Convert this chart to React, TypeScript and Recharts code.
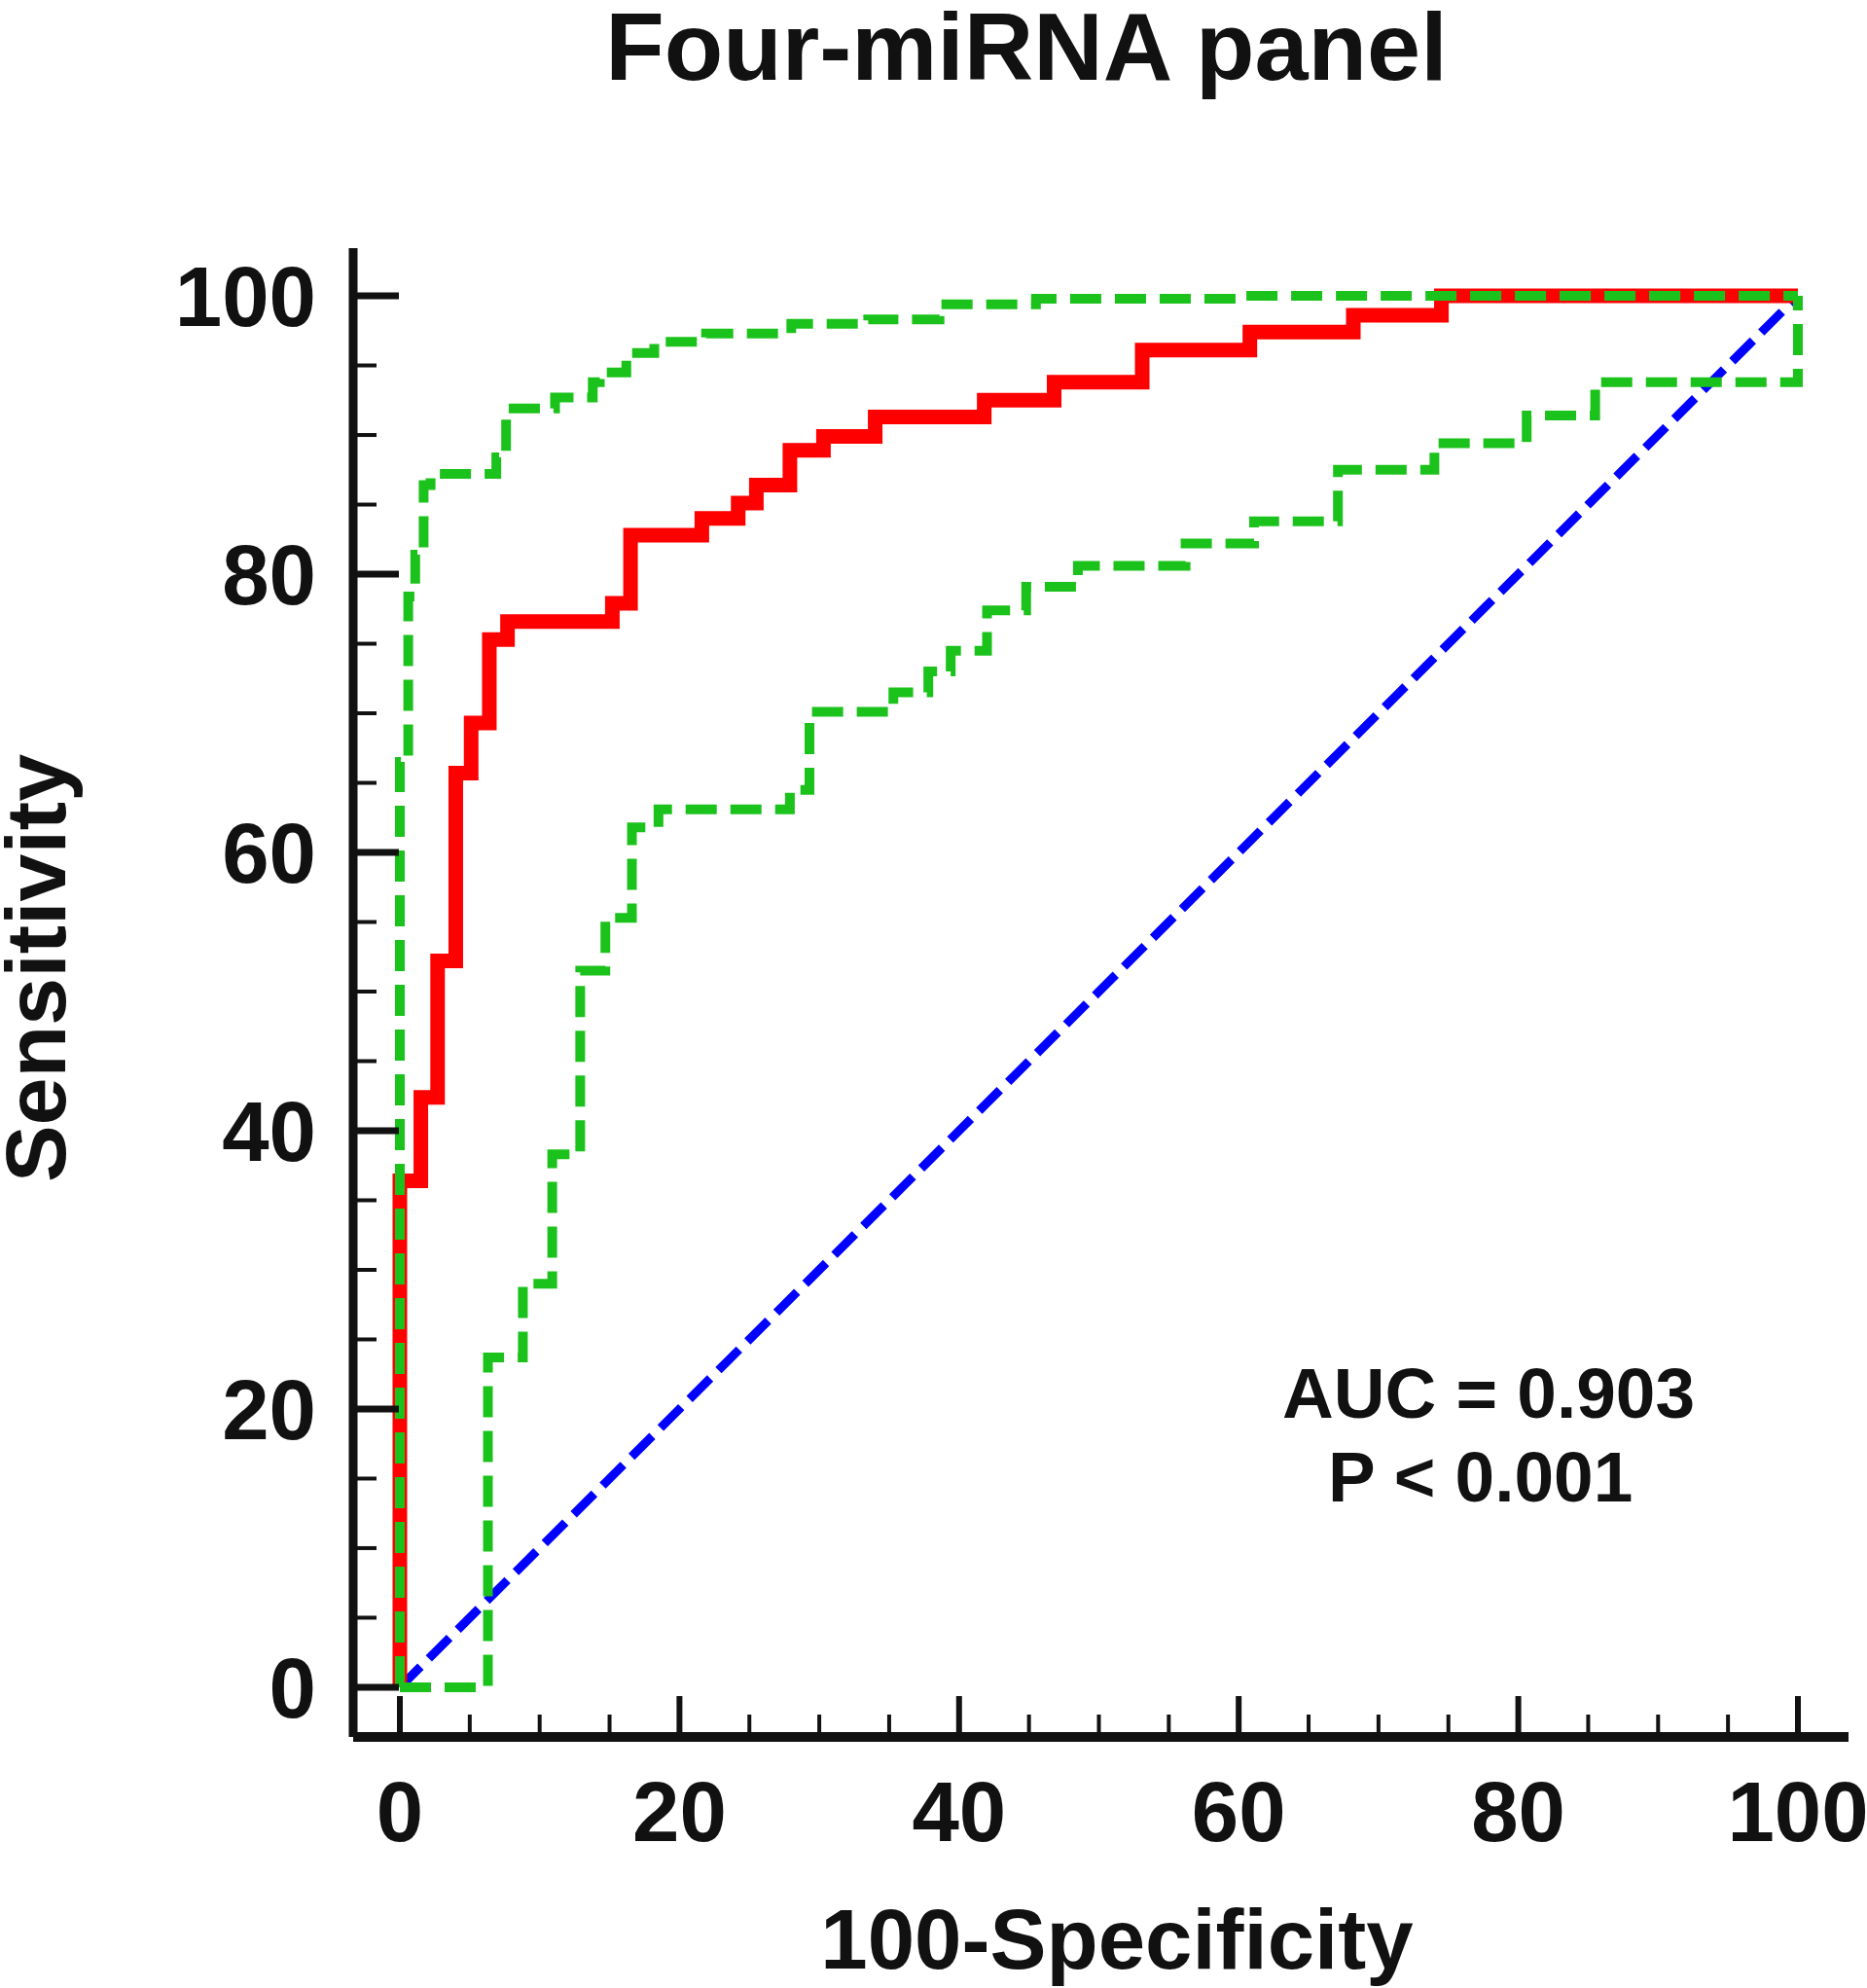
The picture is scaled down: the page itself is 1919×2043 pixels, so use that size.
import { Line, LineChart, XAxis, YAxis } from "recharts";

// ROC curve of the four-miRNA panel (100-specificity vs sensitivity)
const rocCurve = [
  { x: 0, y: 0 }, { x: 0, y: 36.4 }, { x: 1.5, y: 42.4 }, { x: 2.7, y: 52.2 },
  { x: 4.0, y: 65.7 }, { x: 5.1, y: 69.3 }, { x: 6.4, y: 75.3 }, { x: 7.7, y: 76.6 },
  { x: 15.2, y: 77.9 }, { x: 16.5, y: 82.8 }, { x: 21.6, y: 84.0 }, { x: 24.2, y: 85.1 },
  { x: 25.5, y: 86.4 }, { x: 27.9, y: 88.9 }, { x: 30.3, y: 89.9 }, { x: 34.0, y: 91.3 },
  { x: 41.8, y: 92.5 }, { x: 46.8, y: 93.8 }, { x: 53.1, y: 96.1 }, { x: 60.8, y: 97.4 },
  { x: 68.2, y: 98.6 }, { x: 74.5, y: 100 }, { x: 100, y: 100 },
];

// 95% confidence bounds
const upperBound = [
  { x: 0, y: 0 }, { x: 0, y: 66.5 }, { x: 0.6, y: 78.4 }, { x: 1.1, y: 81.4 },
  { x: 1.7, y: 86.4 }, { x: 2.2, y: 87.2 }, { x: 6.9, y: 88.4 }, { x: 7.6, y: 91.9 },
  { x: 11.1, y: 92.7 }, { x: 13.8, y: 93.8 }, { x: 14.3, y: 94.5 }, { x: 16.2, y: 95.9 },
  { x: 18.2, y: 96.7 }, { x: 21.9, y: 97.3 }, { x: 28.0, y: 98.0 }, { x: 33.5, y: 98.3 },
  { x: 38.6, y: 99.4 }, { x: 45.5, y: 99.8 }, { x: 60.4, y: 100 }, { x: 100, y: 100 },
];

const lowerBound = [
  { x: 0, y: 0 }, { x: 6.3, y: 23.7 }, { x: 8.8, y: 29.0 }, { x: 10.9, y: 38.3 },
  { x: 12.9, y: 51.5 }, { x: 14.7, y: 55.3 }, { x: 16.6, y: 61.8 }, { x: 18.5, y: 63.1 },
  { x: 27.9, y: 64.5 }, { x: 29.3, y: 70.1 }, { x: 35.3, y: 71.5 }, { x: 37.8, y: 73.0 },
  { x: 39.4, y: 74.5 }, { x: 42.0, y: 77.4 }, { x: 44.8, y: 79.1 }, { x: 48.5, y: 80.6 },
  { x: 56.2, y: 82.2 }, { x: 61.1, y: 83.8 }, { x: 67.1, y: 87.5 }, { x: 74.0, y: 89.4 },
  { x: 80.6, y: 91.4 }, { x: 85.5, y: 93.8 }, { x: 100, y: 100 },
];

const chanceLine = [
  { x: 0, y: 0 },
  { x: 100, y: 100 },
];

const axisTicks = [0, 5, 10, 15, 20, 25, 30, 35, 40, 45, 50, 55, 60, 65, 70, 75, 80, 85, 90, 95, 100];

const FONT = '"Liberation Sans", Arial, sans-serif';
const INK = "#111";
const GREEN = "#1cc21c";

function XTick({ x, y, payload }: any) {
  const v = payload.value;
  const major = v % 20 === 0;
  return (
    <g>
      <line x1={x} x2={x} y1={y} y2={y - (major ? 42 : 23)} stroke={INK} strokeWidth={major ? 6 : 4} />
      {major && (
        <text x={x} y={y + 107} textAnchor="middle" fontFamily={FONT} fontWeight="bold" fontSize={87} fill={INK}>
          {v}
        </text>
      )}
    </g>
  );
}

function YTick({ x, y, payload }: any) {
  const v = payload.value;
  const major = v % 20 === 0;
  return (
    <g>
      <line x1={x} x2={x + (major ? 47 : 24)} y1={y} y2={y} stroke={INK} strokeWidth={major ? 7 : 4} />
      {major && (
        <text x={x - 38} y={y + 31} textAnchor="end" fontFamily={FONT} fontWeight="bold" fontSize={87} fill={INK}>
          {v}
        </text>
      )}
    </g>
  );
}

export default function App() {
  return (
    <div style={{ position: "absolute", left: 0, top: 0, width: 1919, height: 2043, background: "#fff" }}>
      <LineChart width={1919} height={2043} margin={{ top: 255, right: 19, bottom: 158, left: 263 }}>
        <XAxis
          type="number"
          dataKey="x"
          domain={[-3.34, 103.62]}
          allowDataOverflow
          ticks={axisTicks}
          interval={0}
          height={100}
          tickSize={0}
          tickMargin={0}
          tickLine={false}
          tick={<XTick />}
          axisLine={{ stroke: INK, strokeWidth: 10 }}
        />
        <YAxis
          type="number"
          dataKey="y"
          domain={[-3.57, 103.43]}
          allowDataOverflow
          ticks={axisTicks}
          interval={0}
          width={100}
          tickSize={0}
          tickMargin={0}
          tickLine={false}
          tick={<YTick />}
          axisLine={{ stroke: INK, strokeWidth: 9 }}
        />
        <Line data={chanceLine} dataKey="y" type="linear" stroke="#0000ff" strokeWidth={9} strokeDasharray="30 12" dot={false} isAnimationActive={false} />
        <Line data={rocCurve} dataKey="y" type="stepAfter" stroke="#ff0000" strokeWidth={15} dot={false} isAnimationActive={false} />
        <Line data={upperBound} dataKey="y" type="stepAfter" stroke={GREEN} strokeWidth={10} strokeDasharray="32 14" dot={false} isAnimationActive={false} />
        <Line data={lowerBound} dataKey="y" type="stepAfter" stroke={GREEN} strokeWidth={10} strokeDasharray="32 14" dot={false} isAnimationActive={false} />
        <text x={1055} y={82} textAnchor="middle" fontFamily={FONT} fontWeight="bold" fontSize={99} fill={INK}>
          Four-miRNA panel
        </text>
        <text x={1148} y={2023} textAnchor="middle" fontFamily={FONT} fontWeight="bold" fontSize={87} fill={INK}>
          100-Specificity
        </text>
        <text
          x={67}
          y={995}
          transform="rotate(-90, 67, 995)"
          textAnchor="middle"
          fontFamily={FONT}
          fontWeight="bold"
          fontSize={88}
          fill={INK}
        >
          Sensitivity
        </text>
        <text x={1318} y={1457} fontFamily={FONT} fontWeight="bold" fontSize={73} fill={INK}>
          AUC = 0.903
        </text>
        <text x={1365} y={1543} fontFamily={FONT} fontWeight="bold" fontSize={73} fill={INK}>
          P &lt; 0.001
        </text>
      </LineChart>
    </div>
  );
}
